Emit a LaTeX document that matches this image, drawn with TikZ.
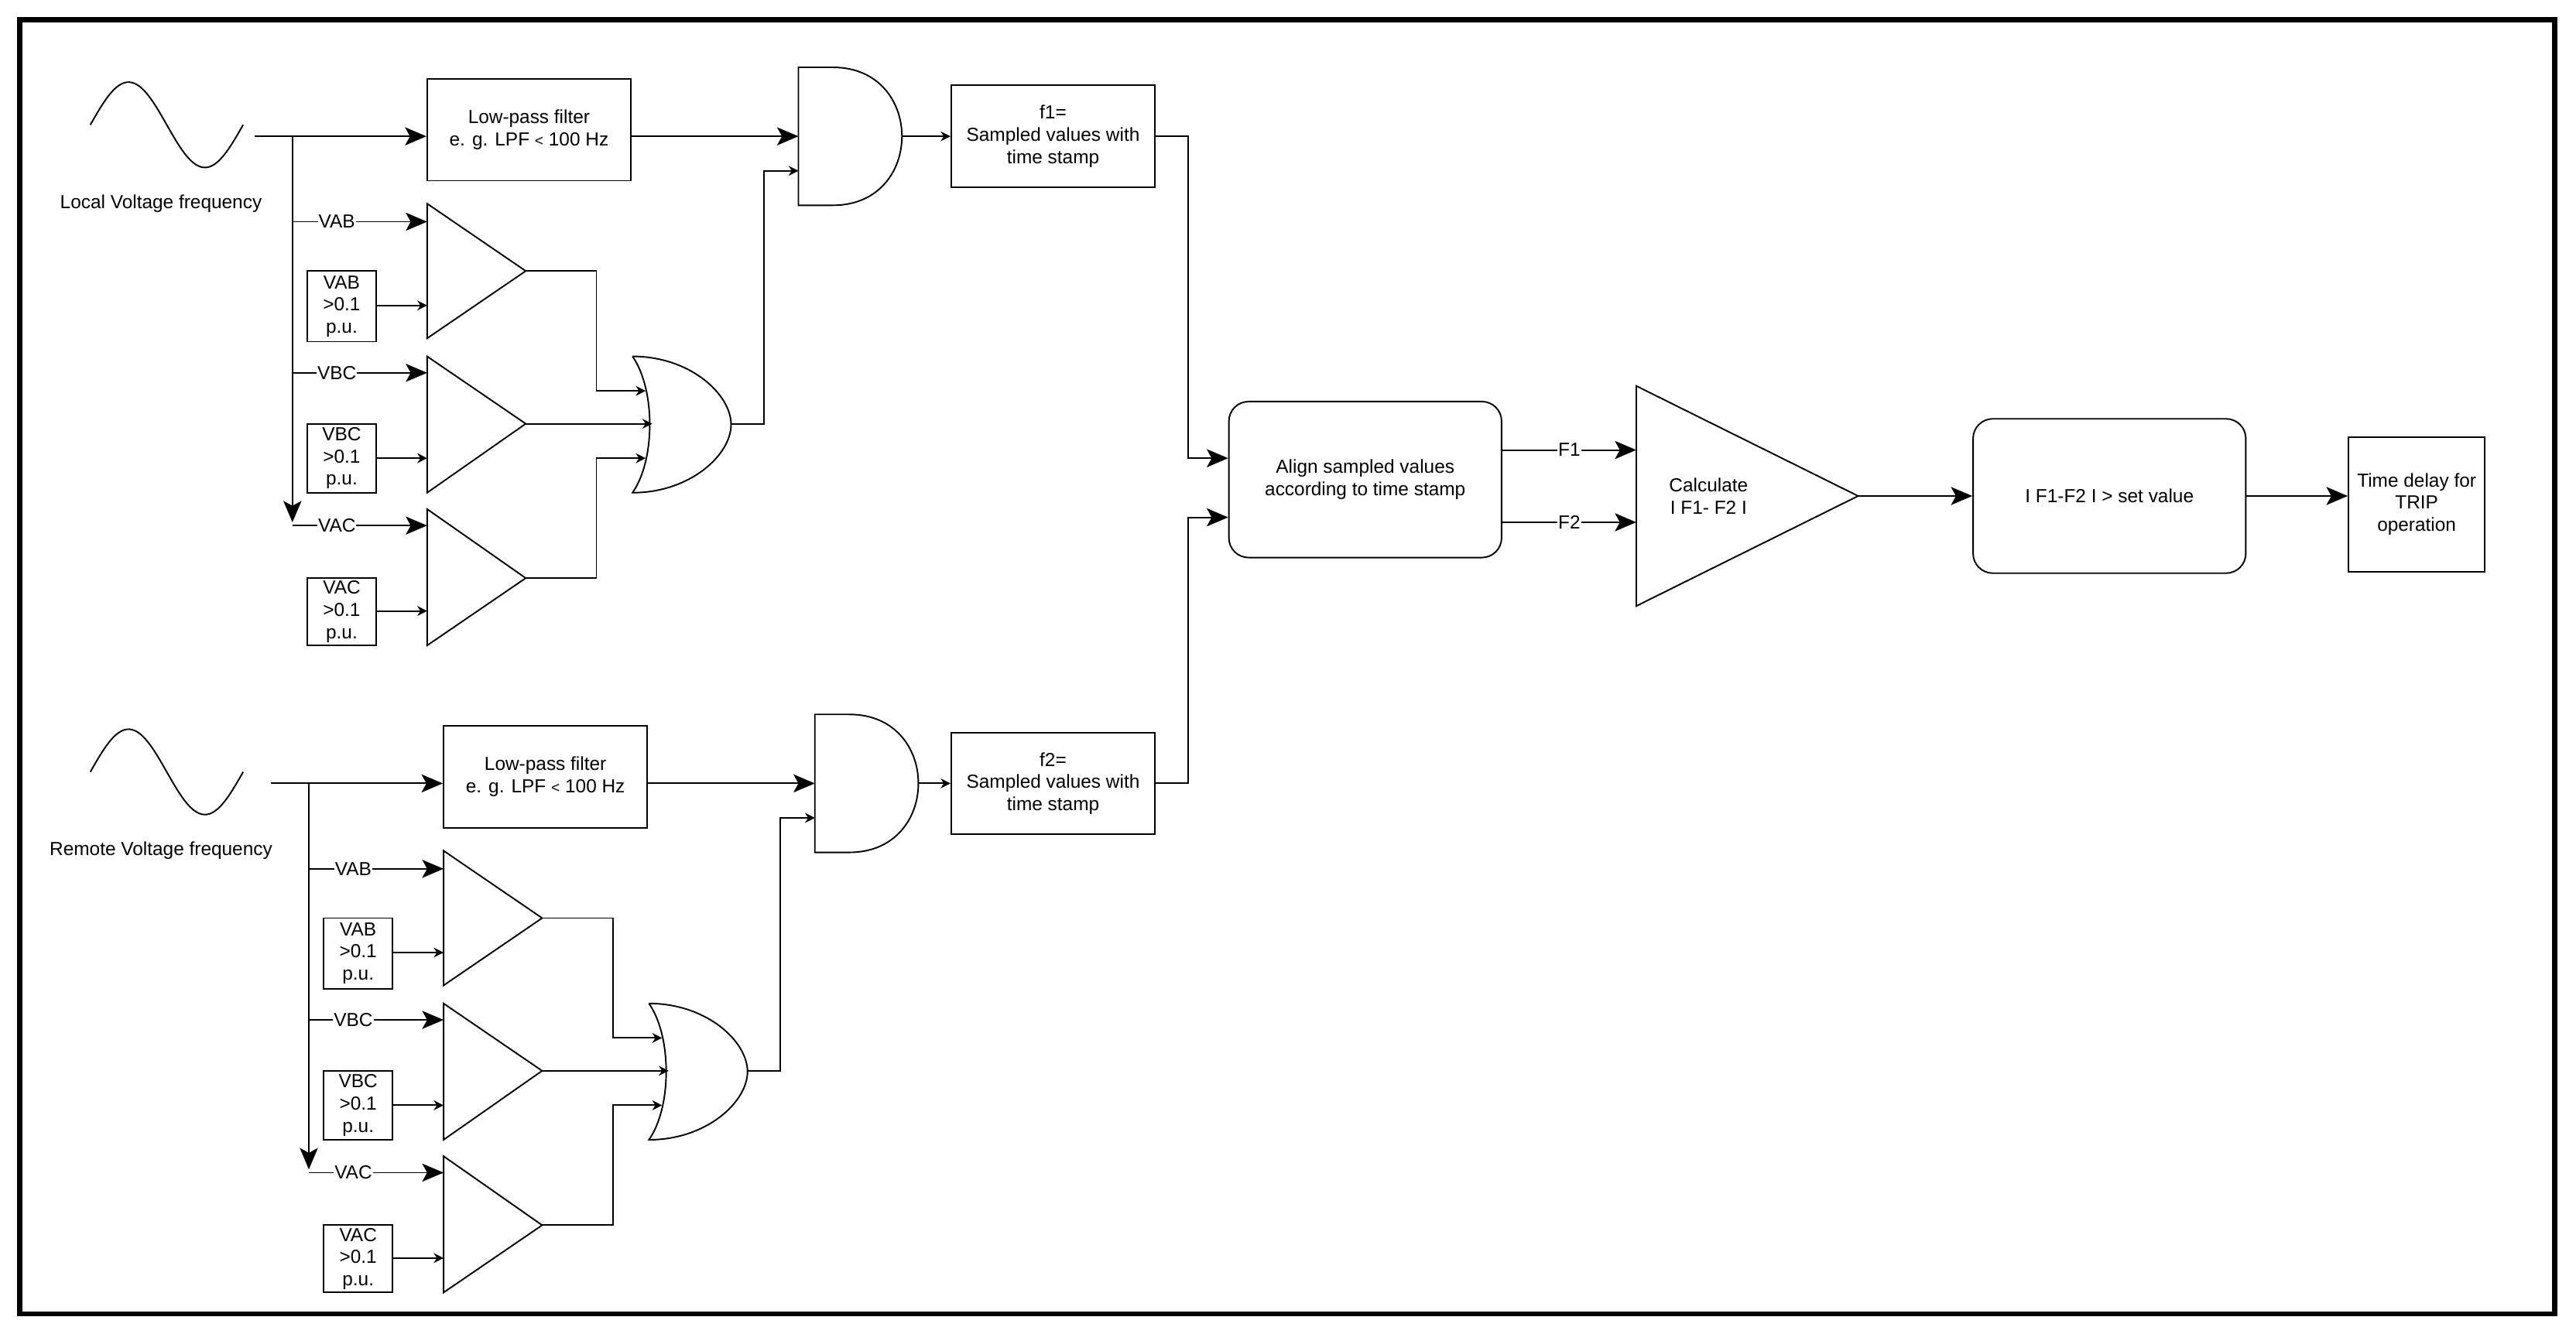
\documentclass[tikz,border=0pt]{standalone}
\usepackage{fontspec}
\setmainfont{Liberation Sans}
\usetikzlibrary{arrows.meta}
\newcommand{\fs}{\fontsize{11.5}{13.5}\selectfont}
\begin{document}
\begin{tikzpicture}[x=1pt,y=-1pt,
  ln/.style={line width=0.9pt},
  big/.style={ln,-{Stealth[length=13pt,width=11pt,inset=3pt]}},
  sm/.style={ln,-{Stealth[length=6pt,width=6pt]}},
  box/.style={draw,ln,align=center,inner sep=0pt,font=\fs},
  lbl/.style={fill=white,inner sep=0.5pt,font=\fs},
  txt/.style={align=center,inner sep=0pt,font=\fs}]
\useasboundingbox (0,0) rectangle (1568,812);
\draw[line width=3pt] (12,12) rectangle (1555,800);

\foreach \dx/\dy/\n/\lab in {0/0/1/Local, 10/394/2/Remote}{
  \begin{scope}[shift={(0,\dy)}]
    \draw[ln] plot[domain=0:360,samples=60,smooth] ({55+\x/360*93},{76-26*sin(\x)});
    \node[txt] (lab\n) at (98,124) {\lab{} Voltage frequency};
    \node[box,minimum width=124,minimum height=62] (fb\n) at (641,83) {f\n=\\Sampled values with\\time stamp};
  \end{scope}
  \begin{scope}[shift={(\dx,\dy)}]
    \coordinate (s\n) at (155,83);
    \coordinate (b\n) at (178,83);
    \node[box,minimum width=124,minimum height=62] (filt\n) at (322,79) {Low-pass filter\\e. g. LPF {\fontsize{9}{9}\selectfont <} 100 Hz};
    % AND gate
    \draw[ln] (486,41) -- (507,41) .. controls (563,41) and (563,125) .. (507,125) -- (486,125) -- cycle;
    \coordinate (andA\n) at (486,83);
    \coordinate (andB\n) at (486,104);
    \coordinate (andO\n) at (549,83);
    % comparators
    \draw[ln] (260,124) -- (320,165) -- (260,206) -- cycle;
    \draw[ln] (260,217) -- (320,258) -- (260,300) -- cycle;
    \draw[ln] (260,310) -- (320,352) -- (260,393) -- cycle;
    \coordinate (t1\n) at (320,165);
    \coordinate (t2\n) at (320,258);
    \coordinate (t3\n) at (320,352);
    \node[box,minimum width=42,minimum height=43] (vab\n) at (208,186.5) {VAB\\{>}0.1\\p.u.};
    \node[box,minimum width=42,minimum height=42] (vbc\n) at (208,279) {VBC\\{>}0.1\\p.u.};
    \node[box,minimum width=42,minimum height=41] (vac\n) at (208,372.5) {VAC\\{>}0.1\\p.u.};
    % OR gate
    \draw[ln] (385,217) .. controls (420,217) and (445,240) .. (445,258.5) .. controls (445,277) and (420,300) .. (385,300) .. controls (399,280) and (399,237) .. (385,217);
    \coordinate (orO\n) at (445,258);
    % wiring
    \draw[big] (s\n) -- (filt\n.west |- s\n);
    \draw[big] (filt\n.east |- s\n) -- (andA\n);
    \draw[sm] (andO\n) -- (fb\n.west |- andO\n);
    \draw[big] (b\n) -- (178,318);
    \draw[big] (178,135) -- node[lbl,pos=0.33] {VAB} (260,135);
    \draw[big] (178,227) -- node[lbl,pos=0.33] {VBC} (260,227);
    \draw[big] (178,320) -- node[lbl,pos=0.33] {VAC} (260,320);
    \draw[sm] (vab\n.east |- 0,186) -- (260,186);
    \draw[sm] (vbc\n.east |- 0,279) -- (260,279);
    \draw[sm] (vac\n.east |- 0,372) -- (260,372);
    \draw[sm] (t1\n) -| (363,238) -- (393,238);
    \draw[sm] (t2\n) -- (397,258);
    \draw[sm] (t3\n) -| (363,279) -- (393,279);
    \draw[sm] (orO\n) -- (465,258) |- (andB\n);
  \end{scope}
}

\node[box,rounded corners=12pt,minimum width=166,minimum height=95] (align) at (831,292) {Align sampled values\\according to time stamp};
\coordinate (a1) at (723,279);
\coordinate (a2) at (723,315);
\draw[big] (fb1.east) -| (a1) -- (align.west |- a1);
\draw[big] (fb2.east) -| (a2) -- (align.west |- a2);

\draw[ln] (996,235) -- (1131,302) -- (996,369) -- cycle;
\coordinate (calcO) at (1131,302);
\node[txt] (calc) at (1040,302) {Calculate\\I F1- F2 I};
\draw[big] (align.east |- 0,274) -- node[lbl] {F1} (996,274);
\draw[big] (align.east |- 0,318) -- node[lbl] {F2} (996,318);

\node[box,rounded corners=12pt,minimum width=166,minimum height=94] (set) at (1284,302) {I F1-F2 I > set value};
\node[box,minimum width=83,minimum height=82] (trip) at (1471,307) {Time delay for\\TRIP\\operation};
\draw[big] (calcO) -- (set.west);
\draw[big] (set.east) -- (trip.west |- set.east);
\end{tikzpicture}
\end{document}
